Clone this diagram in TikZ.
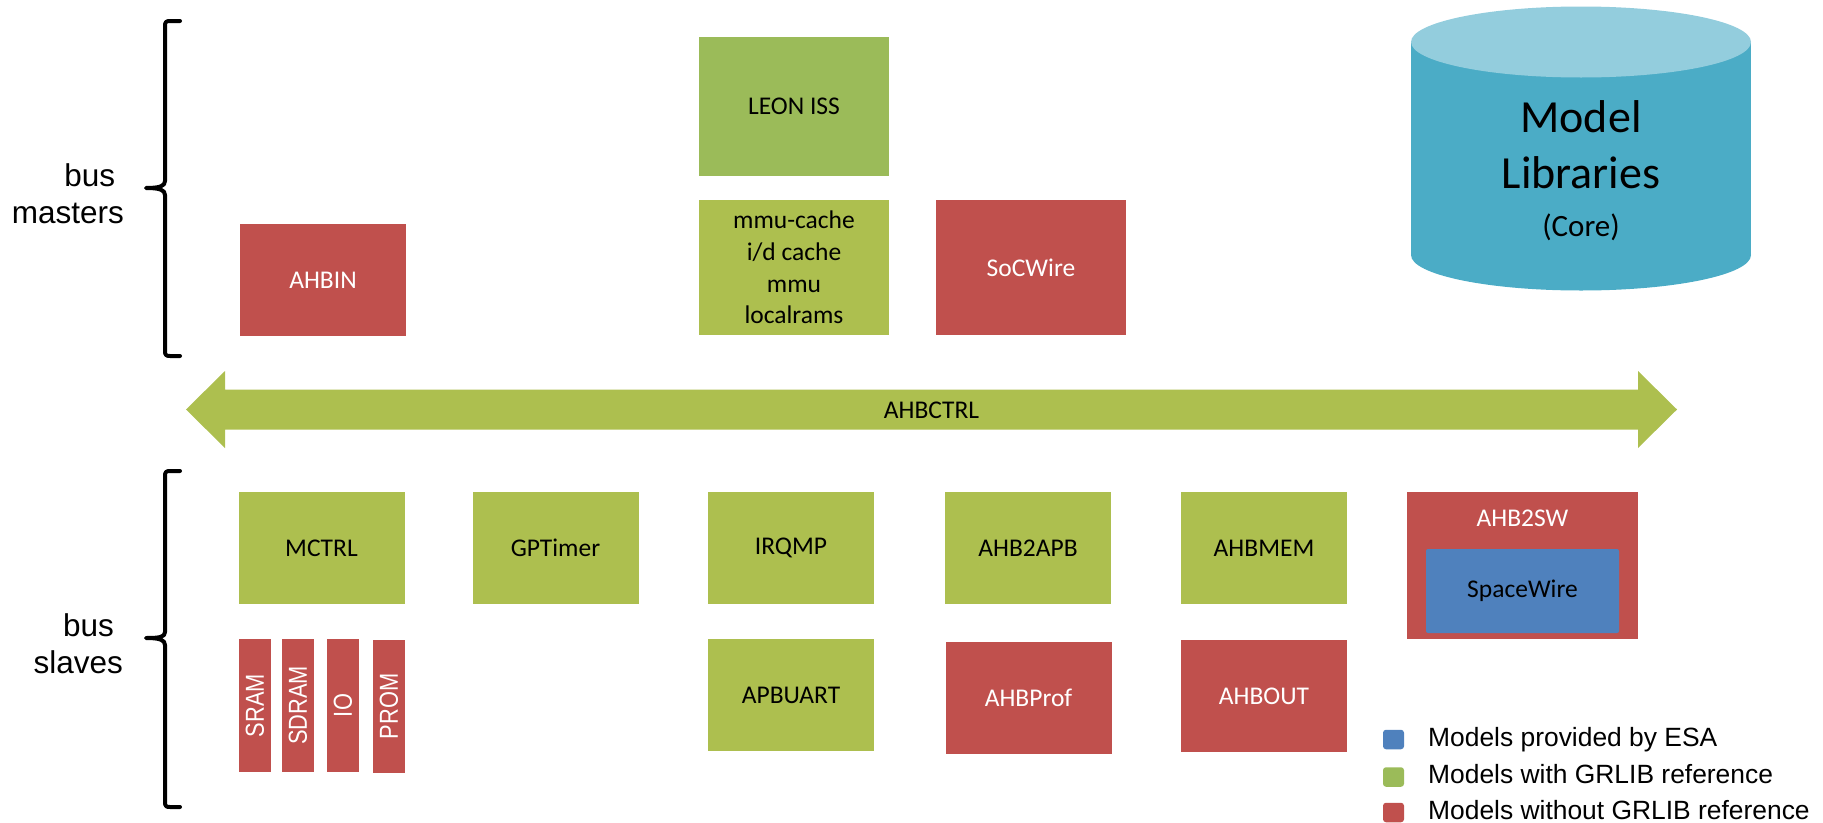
\documentclass[tikz,border=0pt]{standalone}
\usepackage{fontspec}
\setmainfont{Carlito}
\newfontfamily\arialfont{Liberation Sans}
\definecolor{cgreen}{HTML}{ADBF4F}
\definecolor{cleaf}{HTML}{9BBB59}
\definecolor{cred}{HTML}{C0504D}
\definecolor{cblue}{HTML}{4F81BD}
\definecolor{ccyl}{HTML}{4BACC6}
\definecolor{ccyltop}{HTML}{93CDDD}
\begin{document}
\begin{tikzpicture}[x=1pt,y=-1pt,
  lbl/.style={inner sep=0pt, outer sep=0pt, align=center, font=\fontsize{25.5}{31.7}\selectfont},
  grnbox/.style={lbl, fill=cgreen, text=black},
  leonbox/.style={lbl, fill=cleaf, text=black},
  redbox/.style={lbl, fill=cred, text=white},
  bluebox/.style={lbl, fill=cblue, text=black, rounded corners=2pt},
  unitbox/.style={minimum width=166pt, minimum height=112pt},
  cpubox/.style={minimum width=190pt, minimum height=135pt},
  memstrip/.style={redbox, rotate=90, minimum width=133pt, minimum height=32pt,
    font=\arialfont\fontsize{26}{26}\selectfont},
  brace/.style={line width=4pt, line cap=round, line join=round},
  sidelabel/.style={inner sep=0pt, align=right, anchor=base east,
    font=\arialfont\fontsize{31.5}{37}\selectfont},
  legendkey/.style={inner sep=0pt, minimum width=21pt, minimum height=19.5pt, rounded corners=3pt},
  legendtext/.style={inner sep=0pt, anchor=base west, font=\arialfont\fontsize{26.4}{30}\selectfont},
]
\useasboundingbox (0,0) rectangle (1823,822);

% ---- braces and group labels ----
\draw[brace] (180,21) -- (170,21) .. controls (166,21) and (165,22) .. (165,26)
  -- (165,181) .. controls (165,186) and (160,188) .. (146,188)
  .. controls (160,188) and (165,190) .. (165,195)
  -- (165,351) .. controls (165,355) and (166,356) .. (170,356) -- (180,356);
\draw[brace] (180,471) -- (170,471) .. controls (166,471) and (165,472) .. (165,476)
  -- (165,632) .. controls (165,637) and (160,638) .. (146,638)
  .. controls (160,638) and (165,640) .. (165,645)
  -- (165,802) .. controls (165,806) and (166,807) .. (170,807) -- (180,807);
% base anchor of a multi-line node sits on its last line
\node[sidelabel] (masters) at (124,223) {bus\kern8.6pt\\masters};
\node[sidelabel] (slaves) at (123,673) {bus\kern9pt\\slaves};

% ---- bus masters ----
\node[redbox, unitbox] (ahbin) at (323,280) {AHBIN};
\node[leonbox, minimum width=190pt, minimum height=139pt] (leon) at (794,106.5) {LEON ISS};
\node[grnbox, cpubox] (mmu) at (794,267.5) {mmu-cache\\i/d cache\\mmu\\localrams};
\node[redbox, cpubox] (socwire) at (1031,267.5) {SoCWire};

% ---- model library cylinder ----
\fill[ccyl] (1411,42) rectangle (1751,255);
\fill[ccyl] (1581,255) ellipse [x radius=170, y radius=35.5];
\fill[ccyltop] (1581,42) ellipse [x radius=170, y radius=35.5];
\node[inner sep=0pt, align=center, anchor=base, font=\fontsize{46}{56.7}\selectfont] (lib)
  at (1581,236.7) {Model\\Libraries\\[-8.7pt]{\fontsize{31}{37}\selectfont (Core)}};

% ---- AHB bus ----
\fill[cgreen] (186,409.5) -- (225,371) -- (225,389.5) -- (1638,389.5) -- (1638,371)
  -- (1677,409.5) -- (1638,448) -- (1638,429.5) -- (225,429.5) -- (225,448) -- cycle;
\node[lbl] (ahbctrl) at (931.5,410) {AHBCTRL};

% ---- bus slaves ----
\node[grnbox, unitbox] (mctrl) at (321.5,548) {MCTRL};
\node[grnbox, unitbox] (gptimer) at (555.5,548) {GPTimer};
\node[grnbox, unitbox] (irqmp) at (791,548) {IRQMP};
\node[grnbox, unitbox] (ahb2apb) at (1028,548) {AHB2APB};
\node[grnbox, unitbox] (ahbmem) at (1264,548) {AHBMEM};
\node[redbox, minimum width=231pt, minimum height=147pt] (ahb2sw) at (1522.5,565.5) {};
\node[lbl, text=white] (ahb2swlbl) at (1522.5,518) {AHB2SW};
\node[bluebox, minimum width=193pt, minimum height=84pt] (spw) at (1522.5,591) {SpaceWire};

\node[memstrip] (sram) at (255,705.5) {\scalebox{0.84}[1]{SRAM}};
\node[memstrip] (sdram) at (298,705.5) {\scalebox{0.84}[1]{SDRAM}};
\node[memstrip] (io) at (343,705.5) {\scalebox{0.84}[1]{IO}};
\node[memstrip] (prom) at (389,706.5) {\scalebox{0.84}[1]{PROM}};
\node[grnbox, unitbox] (apbuart) at (791,695) {APBUART};
\node[redbox, unitbox] (ahbprof) at (1028.5,698) {AHBProf};
\node[redbox, unitbox] (ahbout) at (1264,696) {AHBOUT};

% ---- legend ----
\node[legendkey, fill=cblue] (keyesa) at (1393.5,739.5) {};
\node[legendkey, fill=cleaf] (keygr) at (1393.5,777) {};
\node[legendkey, fill=cred] (keynogr) at (1393.5,812.5) {};
\node[legendtext] (txtesa) at (1428,746.7) {Models provided by ESA};
\node[legendtext] (txtgr) at (1428,783.3) {Models with GRLIB reference};
\node[legendtext] (txtnogr) at (1428,819.3) {Models without GRLIB reference};
\end{tikzpicture}
\end{document}
